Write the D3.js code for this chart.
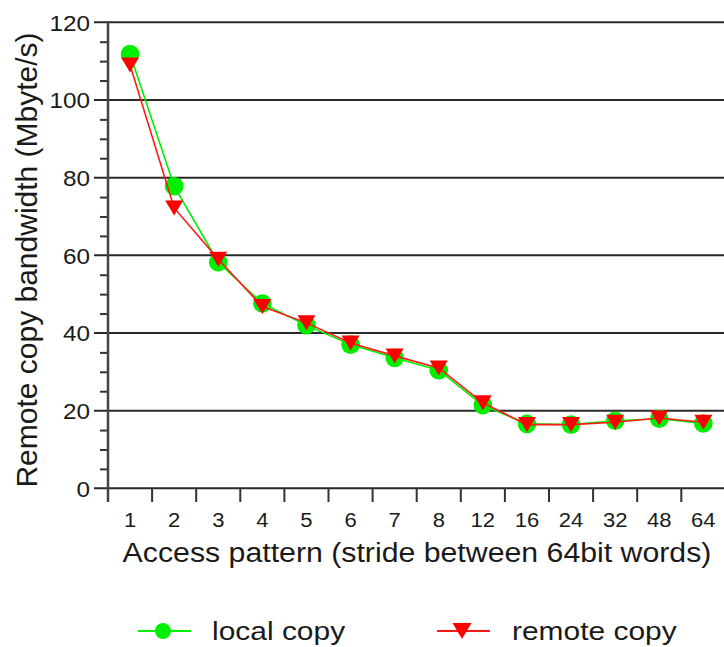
<!DOCTYPE html>
<html>
<head>
<meta charset="utf-8">
<script src="https://cdn.jsdelivr.net/npm/d3@7"></script>
<style>
  html, body { margin: 0; padding: 0; background: #fff; }
  svg { display: block; }
  text { font-family: "Liberation Sans", Arial, Helvetica, sans-serif; fill: #1a1a1a; }
</style>
</head>
<body>
<svg id="chart" width="724" height="647"></svg>
<script>
// Stride values on the x axis (categorical)
const strides = ["1", "2", "3", "4", "5", "6", "7", "8", "12", "16", "24", "32", "48", "64"];
// Bandwidth in Mbyte/s
const localCopy  = [111.8, 77.8, 58.2, 47.6, 42.0, 37.0, 33.6, 30.4, 21.4, 16.6, 16.4, 17.4, 17.9, 16.7];
const remoteCopy = [109.0, 72.2, 59.0, 46.8, 42.6, 37.4, 34.1, 31.0, 22.0, 16.4, 16.4, 17.0, 18.1, 17.0];
const yMajorTicks = [0, 20, 40, 60, 80, 100, 120];
const yMinorTicks = d3.range(0, 121, 5).filter(v => v % 20 !== 0);
const seriesNames = ["local copy", "remote copy"];

const svg = d3.select("#chart");
const W = 724;
const stretch = 1.13;           // glyphs are slightly wide in this layout

const x = d3.scaleBand().domain(strides).range([108, 108 + 14 * 44.1]).padding(0);
const y = d3.scaleLinear().domain([0, 120]).range([488.3, 22.3]);
const cx = d => x(d) + x.bandwidth() / 2;

// Horizontal grid lines (also the left major ticks)
svg.append("g")
  .selectAll("line")
  .data(yMajorTicks)
  .join("line")
  .attr("x1", 94).attr("x2", W)
  .attr("y1", d => y(d)).attr("y2", d => y(d))
  .attr("stroke", "#2a2a2a").attr("stroke-width", 2);

// Y axis: minor ticks and labels
const yAxis = d3.axisLeft(y).tickValues(yMinorTicks).tickSize(8).tickFormat("");
const gy = svg.append("g").attr("transform", "translate(108,0)").call(yAxis);
gy.select(".domain").remove();
gy.selectAll(".tick line").attr("stroke", "#333").attr("stroke-width", 2);

const gyl = svg.append("g").attr("transform", "translate(108,0)")
  .call(d3.axisLeft(y).tickValues(yMajorTicks).tickSize(0).tickFormat(d3.format("d")));
gyl.select(".domain").remove();
gyl.selectAll(".tick text")
  .attr("x", -18 / stretch)
  .attr("dy", "0.36em")
  .attr("transform", `scale(${stretch},1)`)
  .style("font-size", "21.5px")
  .style("font-family", "'Liberation Sans', Arial, sans-serif")
  .attr("fill", "#1a1a1a");

// Vertical axis line
svg.append("line")
  .attr("x1", 108).attr("x2", 108)
  .attr("y1", y(120) - 1).attr("y2", 502)
  .attr("stroke", "#444").attr("stroke-width", 2.5);

// X axis: ticks at band boundaries
const boundaries = strides.slice(1).map(s => x(s)).concat([x(strides[strides.length - 1]) + x.bandwidth()]);
svg.append("g")
  .selectAll("line")
  .data(boundaries)
  .join("line")
  .attr("x1", d => d).attr("x2", d => d)
  .attr("y1", y(0)).attr("y2", 502)
  .attr("stroke", "#333").attr("stroke-width", 2);

const gx = svg.append("g").attr("transform", `translate(0,${y(0)})`)
  .call(d3.axisBottom(x).tickSize(0).tickPadding(0));
gx.select(".domain").remove();
gx.selectAll(".tick text")
  .attr("y", 527 - y(0))
  .attr("dy", 0)
  .attr("transform", `scale(${stretch},1)`)
  .style("font-size", "19.5px")
  .style("font-family", "'Liberation Sans', Arial, sans-serif")
  .attr("fill", "#1a1a1a");

// Axis titles
svg.append("text")
  .attr("transform", `translate(417,561.5) scale(${stretch},1)`)
  .attr("text-anchor", "middle")
  .style("font-size", "26.8px")
  .text("Access pattern (stride between 64bit words)");

svg.append("text")
  .attr("transform", "translate(37,260) rotate(-90)")
  .attr("text-anchor", "middle")
  .style("font-size", "30px")
  .text("Remote copy bandwidth (Mbyte/s)");

// Series
const line = d3.line().x((d, i) => cx(strides[i])).y(d => y(d));
const triangle = (px, py, w, h) =>
  `M${px - w / 2},${py - h / 2}L${px + w / 2},${py - h / 2}L${px},${py + h / 2}Z`;

svg.append("path").datum(localCopy)
  .attr("d", line).attr("fill", "none")
  .attr("stroke", "#00ee00").attr("stroke-width", 1.6);
svg.append("g").selectAll("circle")
  .data(localCopy)
  .join("circle")
  .attr("cx", (d, i) => cx(strides[i]))
  .attr("cy", d => y(d))
  .attr("r", 9.3)
  .attr("fill", "#00ee00");

svg.append("path").datum(remoteCopy)
  .attr("d", line).attr("fill", "none")
  .attr("stroke", "#ff1a1a").attr("stroke-width", 1.6);
svg.append("g").selectAll("path")
  .data(remoteCopy)
  .join("path")
  .attr("d", (d, i) => triangle(cx(strides[i]), y(d), 18, 15))
  .attr("fill", "#ff0000");

// Legend
const legendY = 631;
const lg = svg.append("g");
lg.append("line").attr("x1", 138).attr("x2", 191).attr("y1", legendY).attr("y2", legendY)
  .attr("stroke", "#00ee00").attr("stroke-width", 2);
lg.append("circle").attr("cx", 163).attr("cy", legendY).attr("r", 8).attr("fill", "#00ee00");
lg.append("text").attr("transform", `translate(212,640) scale(${stretch},1)`)
  .style("font-size", "26.5px").text(seriesNames[0]);

lg.append("line").attr("x1", 437).attr("x2", 490).attr("y1", legendY).attr("y2", legendY)
  .attr("stroke", "#ff1a1a").attr("stroke-width", 2);
lg.append("path").attr("d", triangle(462, legendY, 19, 16)).attr("fill", "#ff0000");
lg.append("text").attr("transform", `translate(512,640) scale(${stretch},1)`)
  .style("font-size", "26.5px").text(seriesNames[1]);
</script>
</body>
</html>
